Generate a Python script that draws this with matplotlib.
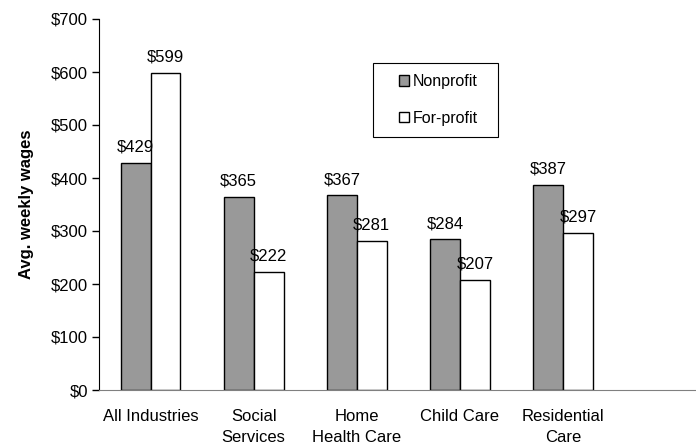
import matplotlib
matplotlib.use('Agg')
import matplotlib.pyplot as plt
from matplotlib.patches import Rectangle
import numpy as np

# Average weekly wages by industry
categories = ['All Industries', 'Social\nServices', 'Home\nHealth Care', 'Child Care', 'Residential\nCare']
nonprofit = [429, 365, 367, 284, 387]
forprofit = [599, 222, 281, 207, 297]

plt.rcParams['font.family'] = ['Liberation Sans', 'DejaVu Sans']
plt.rcParams['font.size'] = 12

fig = plt.figure(figsize=(6.96, 4.46), dpi=100)
ax = fig.add_axes([99 / 696, 56 / 446, 1 - 99 / 696, 371 / 446])

x = np.arange(len(categories))
w = 0.29
b1 = ax.bar(x - w / 2, nonprofit, w, color='#999999', edgecolor='black', linewidth=1, label='Nonprofit')
b2 = ax.bar(x + w / 2, forprofit, w, color='white', edgecolor='black', linewidth=1, label='For-profit')

# value labels above each bar
for bars in (b1, b2):
    for bar in bars:
        h = bar.get_height()
        ax.text(bar.get_x() + bar.get_width() / 2, h + 30, f'${h:.0f}',
                ha='center', va='center', fontsize=12)

ax.set_ylim(0, 700)
ax.set_xlim(-0.5, 5.29)
ax.set_yticks(range(0, 701, 100))
ax.set_yticklabels([f'${v}' for v in range(0, 701, 100)])
ax.set_xticks(x)
ax.set_xticklabels(categories, linespacing=1.5)
ax.tick_params(axis='x', length=0, pad=14)
ax.tick_params(axis='y', length=5, width=1, pad=3, direction='out')

ax.spines['top'].set_visible(False)
ax.spines['right'].set_visible(False)
ax.spines['left'].set_color('black')
ax.spines['bottom'].set_color('#808080')

ax.set_ylabel('Avg. weekly wages', fontweight='bold', fontsize=12, labelpad=12)

# legend box drawn separately so its size can be set
ax.add_patch(Rectangle((0.459, 0.682), 0.2094, 0.1995, transform=ax.transAxes,
                       facecolor='white', edgecolor='black', linewidth=0.8, zorder=3))
leg = ax.legend(loc='center left', bbox_to_anchor=(0.489, 0.7817),
                frameon=False, handlelength=0.65, handleheight=0.65,
                handletextpad=0.2, labelspacing=1.35, borderpad=0, fontsize=11.5)
leg.set_zorder(4)

plt.savefig('out.png', dpi=100)
